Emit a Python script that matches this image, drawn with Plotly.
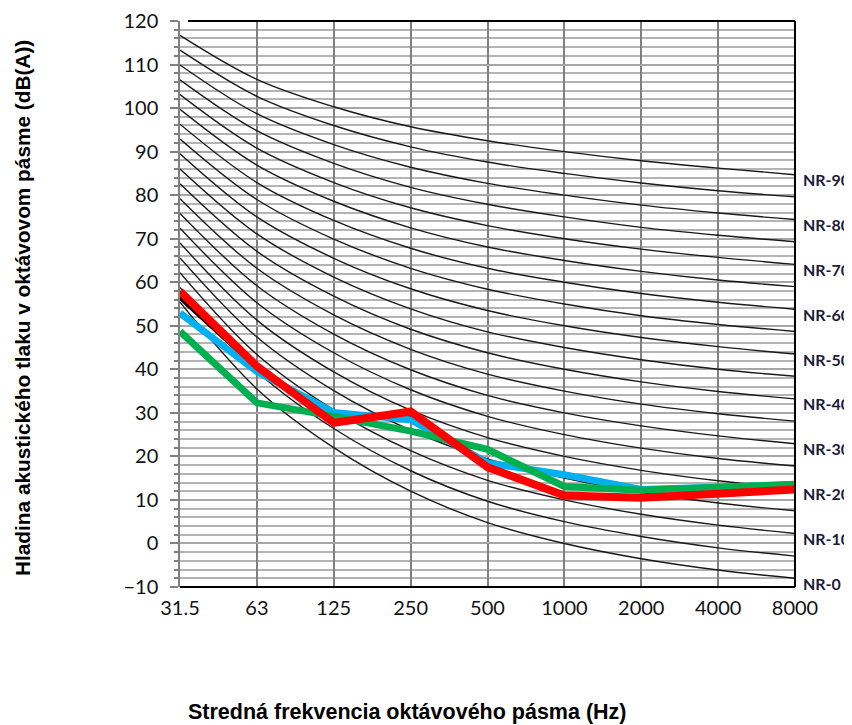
import plotly.graph_objects as go

# ---- data ----
frequencies = ["31.5", "63", "125", "250", "500", "1000", "2000", "4000", "8000"]

black_series = [56.7, 40.6, 28.0, 29.8, 17.5, 11.0, 10.5, 11.7, 12.4]
blue_series = [52.9, 39.5, 30.1, 28.4, 18.5, 15.8, 12.4, 13.1, 13.5]
green_series = [48.7, 32.3, 29.2, 25.8, 21.6, 13.1, 12.2, 13.1, 13.6]
red_series = [57.9, 40.7, 27.7, 30.3, 17.5, 11.0, 10.5, 11.6, 12.4]

nr_levels = [0, 5, 10, 15, 20, 25, 30, 35, 40, 45, 50, 55, 60, 65, 70, 75, 80, 85, 90]
# NR curve levels (dB) at each octave band, one row per NR level
nr_curve_values = [
    [55.4, 35.5, 22.0, 12.0, 4.8, 0.0, -3.5, -6.1, -8.0],
    [58.8, 39.5, 26.4, 16.7, 9.7, 5.0, 1.6, -1.0, -2.9],
    [62.2, 43.4, 30.7, 21.3, 14.5, 10.0, 6.7, 4.2, 2.3],
    [65.6, 47.4, 35.1, 26.0, 19.4, 15.0, 11.7, 9.3, 7.5],
    [69.0, 51.3, 39.4, 30.6, 24.3, 20.0, 16.8, 14.4, 12.6],
    [72.4, 55.3, 43.8, 35.3, 29.2, 25.0, 21.9, 19.5, 17.8],
    [75.8, 59.2, 48.1, 39.9, 34.0, 30.0, 27.0, 24.7, 22.9],
    [79.2, 63.2, 52.5, 44.6, 38.9, 35.0, 32.0, 29.8, 28.1],
    [82.6, 67.1, 56.8, 49.2, 43.8, 40.0, 37.1, 34.9, 33.2],
    [86.0, 71.1, 61.2, 53.9, 48.6, 45.0, 42.2, 40.0, 38.4],
    [89.5, 75.0, 65.5, 58.5, 53.5, 50.0, 47.3, 45.2, 43.5],
    [92.9, 79.0, 69.9, 63.2, 58.4, 55.0, 52.3, 50.3, 48.7],
    [96.3, 82.9, 74.2, 67.8, 63.2, 60.0, 57.4, 55.4, 53.8],
    [99.7, 86.9, 78.6, 72.5, 68.1, 65.0, 62.5, 60.5, 59.0],
    [103.1, 90.8, 82.9, 77.1, 73.0, 70.0, 67.6, 65.7, 64.1],
    [106.5, 94.8, 87.3, 81.8, 77.9, 75.0, 72.6, 70.8, 69.3],
    [109.9, 98.7, 91.6, 86.4, 82.7, 80.0, 77.7, 75.9, 74.4],
    [113.3, 102.7, 96.0, 91.1, 87.6, 85.0, 82.8, 81.0, 79.6],
    [116.7, 106.6, 100.3, 95.7, 92.5, 90.0, 87.9, 86.2, 84.7],
]
nr_label_levels = [90, 80, 70, 60, 50, 40, 30, 20, 10, 0]
y_ticks = [-10, 0, 10, 20, 30, 40, 50, 60, 70, 80, 90, 100, 110, 120]

# ---- layout geometry (page has an 8px body margin) ----
PL, PR, PT, PB = 172, 787, 13, 579
W, H = 852, 725
PW, PH = PR - PL, PB - PT

# ---- figure ----
fig = go.Figure()

for lvl, vals in zip(nr_levels, nr_curve_values):
    fig.add_trace(go.Scatter(
        x=frequencies, y=vals, mode="lines",
        line=dict(color="#1a1a1a", width=1.4, shape="spline", smoothing=1.0),
        showlegend=False, hoverinfo="skip", name=f"NR-{lvl}",
    ))

for vals, col, w in [(black_series, "#000000", 6),
                     (blue_series, "#00B0F0", 7),
                     (green_series, "#00B050", 7),
                     (red_series, "#FF0000", 8)]:
    fig.add_trace(go.Scatter(
        x=frequencies, y=vals, mode="lines",
        line=dict(color=col, width=w),
        showlegend=False,
    ))

# NR labels at the right edge
for lvl in nr_label_levels:
    row = nr_curve_values[nr_levels.index(lvl)]
    fig.add_annotation(
        x=1, xref="paper", y=row[-1], yref="y",
        text=f"<b>NR-{lvl}</b>", showarrow=False,
        xanchor="left", yanchor="middle", xshift=6, yshift=-5,
        font=dict(family="Lato, Open Sans, sans-serif", size=16, color="#1c1c3a"),
    )

fig.add_annotation(
    x=(14 - PL) / PW, xref="paper", y=1 - (300 - PT) / PH, yref="paper",
    text="<b>Hladina akustického tlaku v oktávovom pásme (dB(A))</b>",
    textangle=-90, showarrow=False, xanchor="center", yanchor="middle",
    font=dict(family="Liberation Sans, Arial, sans-serif", size=20.8, color="#000000"),
)
fig.add_annotation(
    x=(399 - PL) / PW, xref="paper", y=-(704 - PB) / PH, yref="paper",
    text="<b>Stredná frekvencia oktávového pásma (Hz)</b>",
    showarrow=False, xanchor="center", yanchor="middle",
    font=dict(family="Liberation Sans, Arial, sans-serif", size=21.5, color="#000000"),
)

# plot border (top / right / bottom)
fig.add_shape(type="line", xref="paper", yref="paper", x0=0.013, x1=1, y0=1, y1=1,
              line=dict(color="#000000", width=2))
fig.add_shape(type="line", xref="paper", yref="paper", x0=1, x1=1, y0=0, y1=1,
              line=dict(color="#000000", width=2))
fig.add_shape(type="line", xref="paper", yref="paper", x0=0, x1=1, y0=0, y1=0,
              line=dict(color="#000000", width=2))

fig.update_layout(
    width=W, height=H,
    margin=dict(l=PL, r=W - PR, t=PT, b=H - PB, autoexpand=False),
    paper_bgcolor="white", plot_bgcolor="white",
    showlegend=False,
    xaxis=dict(
        type="category", range=[0, len(frequencies) - 1],
        automargin=False,
        showgrid=True, gridcolor="#808080", gridwidth=1.5,
        ticks="", showline=False, zeroline=False,
        tickfont=dict(family="Lato, Open Sans, sans-serif", size=20, color="#111111"),
        ticklabelstandoff=7,
    ),
    yaxis=dict(
        range=[-10, 120], tickvals=y_ticks,
        automargin=False,
        showgrid=True, gridcolor="#a6a6a6", gridwidth=1.5,
        minor=dict(dtick=2, showgrid=True, gridcolor="#b4b4b4", gridwidth=1.5,
                   ticks="outside", ticklen=4, tickcolor="#808080"),
        ticks="outside", ticklen=8, tickcolor="#808080", tickwidth=1.5,
        showline=True, linecolor="#808080", linewidth=1.5,
        zeroline=False,
        tickfont=dict(family="Lato, Open Sans, sans-serif", size=20, color="#111111"),
        ticklabelstandoff=8,
    ),
)

fig.write_html("out.html")
